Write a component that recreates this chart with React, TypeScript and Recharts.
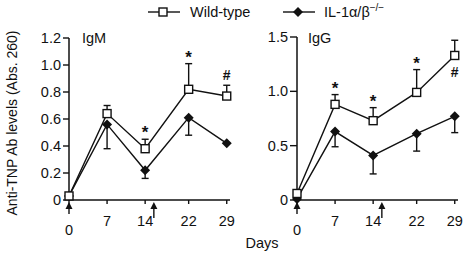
import React from "react";
import {
  LineChart,
  Line,
  XAxis,
  YAxis,
  ErrorBar,
  ReferenceDot,
  Legend,
} from "recharts";

// days after first immunization
const days = [0, 7, 14, 22, 29];
// arrows = immunization / boost
const boostDays = [0, 15.6];

// IgM panel
const igmWildType = [0.03, 0.64, 0.38, 0.82, 0.77];
const igmWildTypeErr = [0, 0.06, 0.07, 0.19, 0.08];
const igmKnockout = [0.03, 0.56, 0.22, 0.61, 0.42];
const igmKnockoutErr = [0, 0.18, 0.06, 0.13, 0];
const igmMarks = ["", "", "*", "*", "#"];
const igmTicks = [0, 0.2, 0.4, 0.6, 0.8, 1.0, 1.2];

// IgG panel
const iggWildType = [0.06, 0.88, 0.73, 0.99, 1.33];
const iggWildTypeErr = [0, 0.09, 0.12, 0.21, 0.14];
const iggKnockout = [0.01, 0.63, 0.41, 0.61, 0.77];
const iggKnockoutErr = [0, 0.14, 0.17, 0.16, 0.15];
const iggMarks = ["", "*", "*", "*", "#"];
const iggMarksBelow = [29]; // "#" sits under the point here
const iggTicks = [0, 0.5, 1.0, 1.5];

const FONT = '"Liberation Sans", Arial, Helvetica, sans-serif';
const INK = "#111";

// build rows for recharts, errors are one-sided [low, high]
function makeRows(wt: number[], wtErr: number[], ko: number[], koErr: number[]) {
  return days.map((day, i) => ({
    day,
    wt: wt[i],
    wtErr: [0, wtErr[i]],
    ko: ko[i],
    koErr: [koErr[i], 0],
  }));
}

const SquareDot = (p: any) => (
  <rect
    key={`sq-${p.index}`}
    x={p.cx - 4}
    y={p.cy - 4}
    width={8}
    height={8}
    fill="#fff"
    stroke={INK}
    strokeWidth={1.4}
  />
);

const DiamondDot = (p: any) => (
  <polygon
    key={`dm-${p.index}`}
    points={`${p.cx},${p.cy - 5} ${p.cx + 5},${p.cy} ${p.cx},${p.cy + 5} ${p.cx - 5},${p.cy}`}
    fill={INK}
  />
);

const DayTick = (props: any) => {
  const { x, y, payload } = props;
  const drop = payload.value === 0 ? 9 : 0; // "0" pushed down below the arrow
  return (
    <text x={x} y={y + drop} dy="0.71em" textAnchor="middle" fontSize={14.5} fill={INK} fontFamily={FONT}>
      {payload.value}
    </text>
  );
};

const Arrow = (day: number) => (p: any) => {
  const len = day === 0 ? 12 : 16;
  const tip = p.cy + 2;
  return (
    <g>
      <line x1={p.cx} y1={tip + 5} x2={p.cx} y2={tip + len} stroke={INK} strokeWidth={1.4} />
      <polygon points={`${p.cx},${tip} ${p.cx + 3.5},${tip + 7} ${p.cx - 3.5},${tip + 7}`} fill={INK} />
    </g>
  );
};

const LegendBox = () => (
  <svg width={300} height={24}>
    <g fontFamily={FONT} fontSize={14.5} fill={INK}>
      <line x1={8} y1={12} x2={40} y2={12} stroke={INK} strokeWidth={1.4} />
      <rect x={19} y={8} width={8} height={8} fill="#fff" stroke={INK} strokeWidth={1.4} />
      <text x={50} y={17}>Wild-type</text>
      <line x1={143} y1={12} x2={175} y2={12} stroke={INK} strokeWidth={1.4} />
      <polygon points="158,7 163,12 158,17 153,12" fill={INK} />
      <text x={184} y={17}>
        IL-1α/β
        <tspan fontSize={10} dy={-6}>−/−</tspan>
      </text>
    </g>
  </svg>
);

type PanelProps = {
  rows: any[];
  ticks: number[];
  title: string;
  marks: string[];
  marksBelow: number[];
  left: number;
  width: number;
  marginLeft: number;
  marginTop: number;
  tickSize: number;
  first?: boolean;
};

function Panel(p: PanelProps) {
  const yMax = p.ticks[p.ticks.length - 1];
  const titleX = p.first ? 82 : 68;
  return (
    <div style={{ position: "absolute", left: p.left, top: 0 }}>
      <LineChart
        width={p.width}
        height={258}
        data={p.rows}
        margin={{ top: p.marginTop, right: 10, bottom: 28, left: p.marginLeft }}
      >
        <XAxis
          dataKey="day"
          type="number"
          domain={[0, 29.6]}
          ticks={days}
          tick={<DayTick />}
          tickSize={4}
          tickMargin={12}
          height={30}
          stroke={INK}
          strokeWidth={1.5}
          tickLine={{ stroke: INK, strokeWidth: 1.4 }}
        />
        <YAxis
          type="number"
          domain={[0, yMax]}
          ticks={p.ticks}
          width={45}
          tickSize={p.tickSize}
          tickMargin={2}
          tickFormatter={(v: number) => (v === 0 ? "0" : v.toFixed(1))}
          tick={{ fill: INK, fontSize: 14.5, fontFamily: FONT }}
          stroke={INK}
          strokeWidth={1.5}
          tickLine={{ stroke: INK, strokeWidth: 1.4 }}
        />
        <Line
          dataKey="ko"
          name="IL-1α/β−/−"
          type="linear"
          stroke={INK}
          strokeWidth={1.4}
          dot={DiamondDot}
          activeDot={false}
          isAnimationActive={false}
        >
          <ErrorBar dataKey="koErr" width={3.5} stroke={INK} strokeWidth={1.4} direction="y" />
        </Line>
        <Line
          dataKey="wt"
          name="Wild-type"
          type="linear"
          stroke={INK}
          strokeWidth={1.4}
          dot={SquareDot}
          activeDot={false}
          isAnimationActive={false}
        >
          <ErrorBar dataKey="wtErr" width={3.5} stroke={INK} strokeWidth={1.4} direction="y" />
        </Line>
        {boostDays.map((d) => (
          <ReferenceDot key={`arr-${d}`} x={d} y={0} r={0} ifOverflow="visible" shape={Arrow(d)} />
        ))}
        {p.rows.map((row, i) => {
          const sym = p.marks[i];
          if (!sym) return null;
          const below = p.marksBelow.includes(row.day);
          const anchor = below ? row.wt : row.wt + row.wtErr[1];
          return (
            <ReferenceDot
              key={`mk-${i}`}
              x={row.day}
              y={anchor}
              r={0}
              ifOverflow="visible"
              shape={(s: any) => {
                let base: number;
                if (below) base = s.cy + 22;
                else base = sym === "*" ? s.cy - 1 : s.cy - 5;
                return (
                  <text
                    x={s.cx}
                    y={base}
                    textAnchor="middle"
                    fontSize={sym === "*" ? 17 : 14}
                    fontWeight="bold"
                    fill={INK}
                    fontFamily={FONT}
                  >
                    {sym}
                  </text>
                );
              }}
            />
          );
        })}
        <text x={titleX} y={43} fontSize={14.5} fill={INK} fontFamily={FONT}>
          {p.title}
        </text>
        {p.first && (
          <text
            x={12}
            y={123}
            transform="rotate(-90 12 123)"
            textAnchor="middle"
            dominantBaseline="central"
            fontSize={14}
            fill={INK}
            fontFamily={FONT}
          >
            Anti-TNP Ab levels (Abs. 260)
          </text>
        )}
        {!p.first && (
          <text x={22} y={248} textAnchor="middle" fontSize={14.5} fill={INK} fontFamily={FONT}>
            Days
          </text>
        )}
        {p.first && (
          <Legend
            verticalAlign="middle"
            align="center"
            layout="horizontal"
            content={() => <LegendBox />}
            wrapperStyle={{ position: "absolute", left: 140, top: 0, width: 300, height: 24 }}
          />
        )}
      </LineChart>
    </div>
  );
}

export default function App() {
  const igmRows = makeRows(igmWildType, igmWildTypeErr, igmKnockout, igmKnockoutErr);
  const iggRows = makeRows(iggWildType, iggWildTypeErr, iggKnockout, iggKnockoutErr);

  return (
    <div style={{ position: "absolute", left: 0, top: 0, width: 468, height: 258, background: "#fff" }}>
      <Panel
        rows={igmRows}
        ticks={igmTicks}
        title="IgM"
        marks={igmMarks}
        marksBelow={[]}
        left={0}
        width={240}
        marginLeft={24}
        marginTop={38}
        tickSize={6}
        first
      />
      <Panel
        rows={iggRows}
        ticks={iggTicks}
        title="IgG"
        marks={iggMarks}
        marksBelow={iggMarksBelow}
        left={240}
        width={228}
        marginLeft={12}
        marginTop={37}
        tickSize={7}
      />
    </div>
  );
}
